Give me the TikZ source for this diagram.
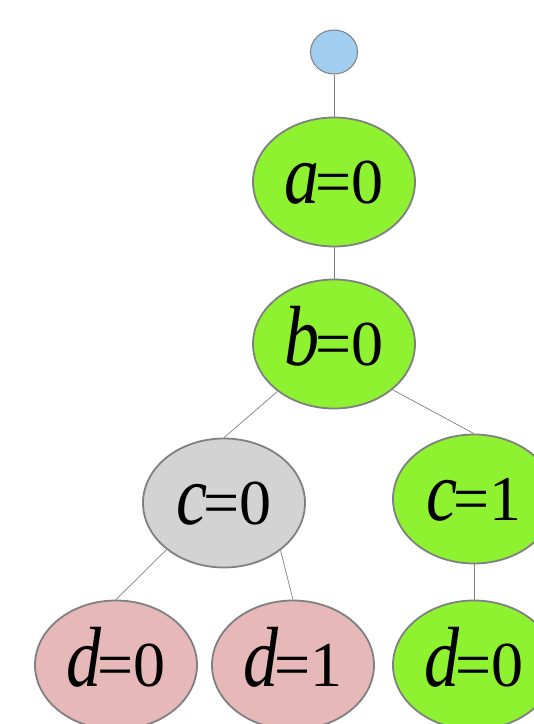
\documentclass[tikz,border=0pt]{standalone}
\usepackage{graphicx}
\usepackage{fontspec}
\setmainfont{Liberation Serif}
\usetikzlibrary{shapes.geometric}
\definecolor{leafgreen}{RGB}{142,242,48}
\definecolor{pinkred}{RGB}{230,184,183}
\definecolor{lightgray}{RGB}{211,211,211}
\definecolor{rootblue}{RGB}{160,205,240}
\definecolor{bordergray}{RGB}{128,128,128}
\newcommand{\varlbl}[2]{\scalebox{1}[1.22]{\fontsize{70}{70}\selectfont\textit{#1}}\kern-4pt{\fontsize{64}{64}\selectfont=#2}}
\tikzset{
  val/.style={ellipse, draw=bordergray, line width=1.8pt, minimum width=162pt, minimum height=129pt, inner sep=0pt, text height=42pt, text depth=0pt},
  greennode/.style={val, fill=leafgreen},
  pinknode/.style={val, fill=pinkred},
  graynode/.style={val, fill=lightgray},
  rootnode/.style={ellipse, draw=bordergray, line width=1pt, fill=rootblue, minimum width=47pt, minimum height=44pt, inner sep=0pt},
  edge/.style={draw=bordergray, line width=0.7pt}
}
\begin{document}
\begin{tikzpicture}[x=1pt,y=-1pt]
\useasboundingbox (0,0) rectangle (534,724);
\clip (0,0) rectangle (534,724);
\node[rootnode] (r) at (334,52) {};
\node[greennode] (a) at (334,182) {\varlbl{a}{0}};
\node[greennode] (b) at (334,344) {\varlbl{b}{0}};
\node[graynode] (c0) at (224,503) {\varlbl{c}{0}};
\node[greennode] (c1) at (474,499) {\varlbl{c}{1}};
\node[pinknode] (d0) at (116,665) {\varlbl{d}{0}};
\node[pinknode] (d1) at (293,665) {\varlbl{d}{1}};
\node[greennode] (d2) at (474,665) {\varlbl{d}{0}};
\draw[edge] (r.south) -- (a.north);
\draw[edge] (a.south) -- (b.north);
\draw[edge] (b.220) -- (c0.north);
\draw[edge] (b.-38) -- (c1.north);
\draw[edge] (c0.219) -- (d0.north);
\draw[edge] (c0.-40) -- (d1.north);
\draw[edge] (c1.south) -- (d2.north);
\end{tikzpicture}
\end{document}
